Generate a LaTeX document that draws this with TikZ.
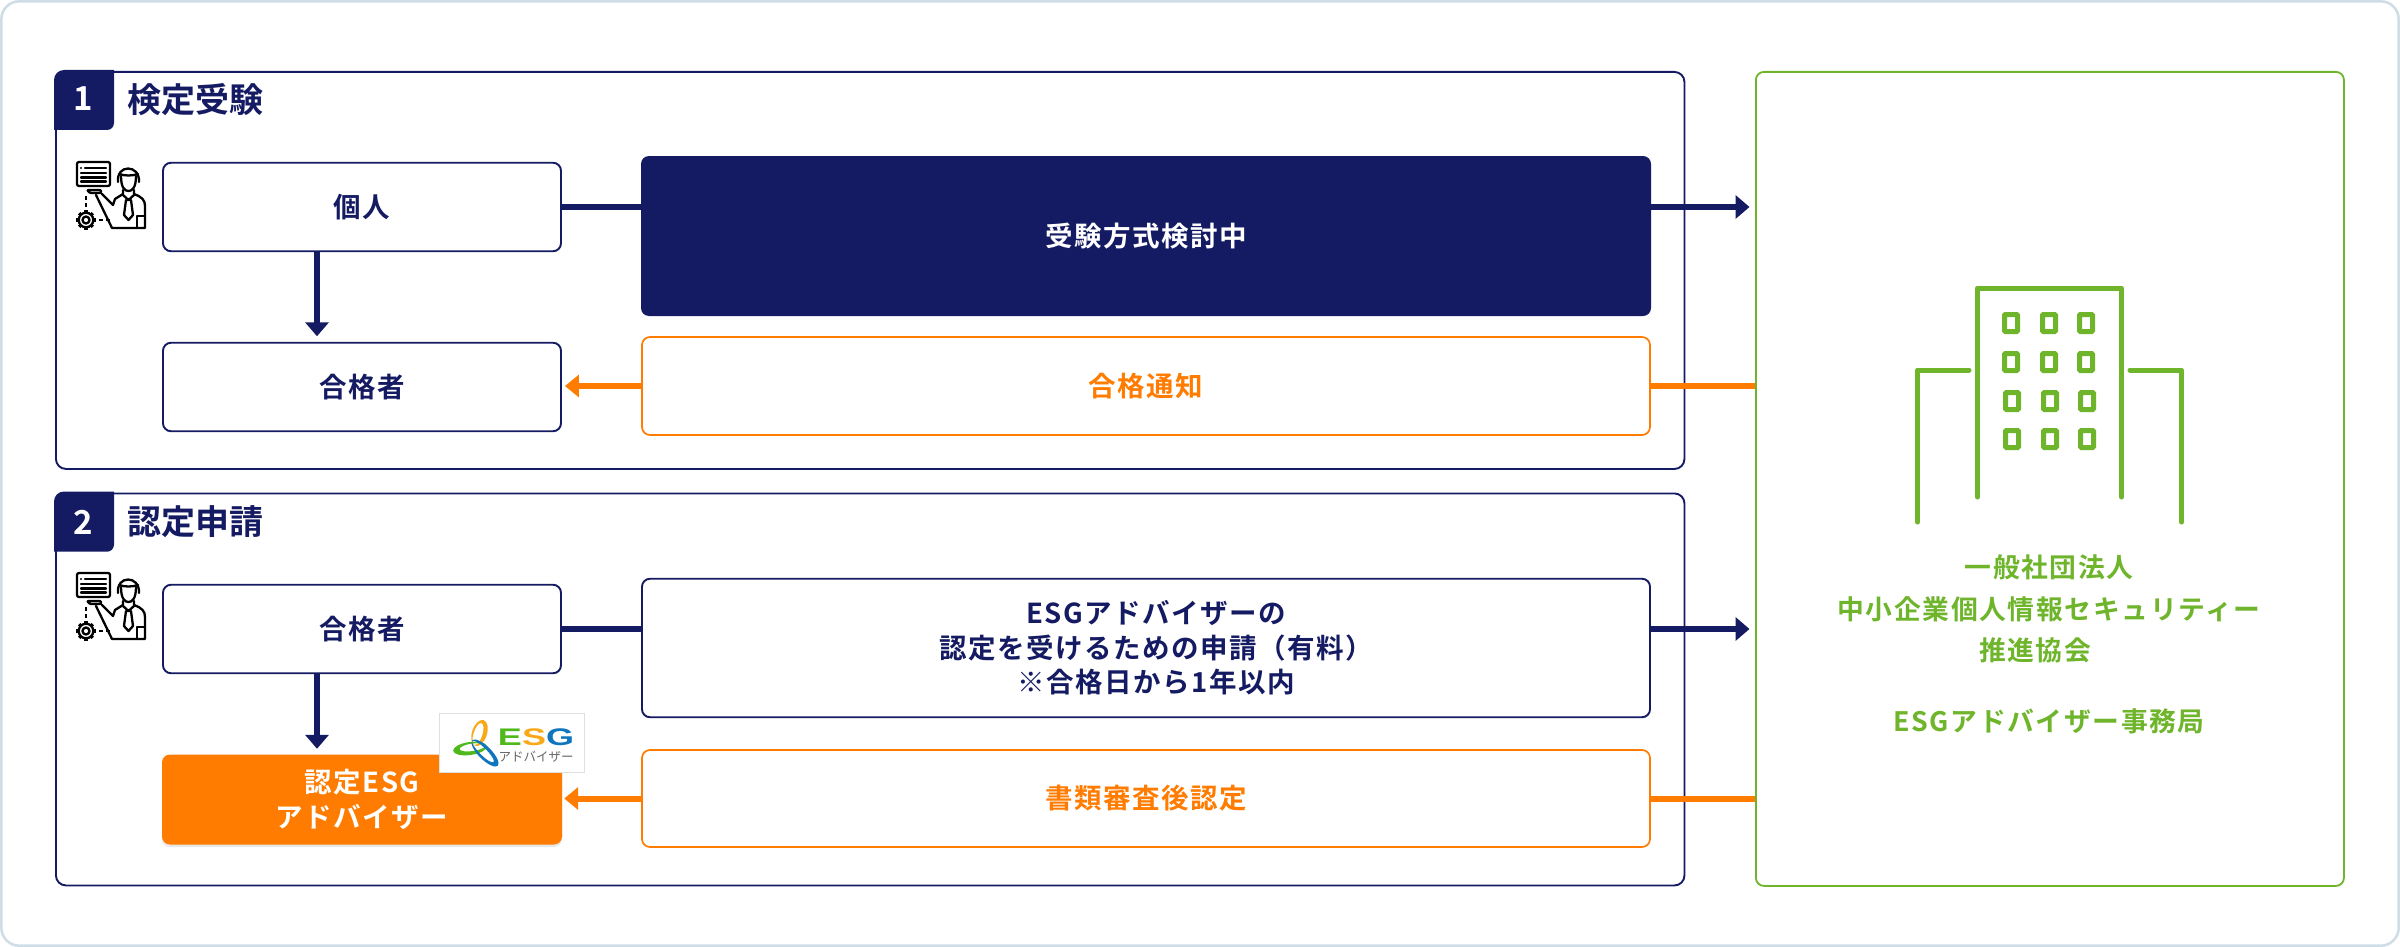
\documentclass[tikz,border=0pt]{standalone}
\usepackage{fontspec}
\usetikzlibrary{arrows.meta,shadows,calc}
\newfontfamily\jpb{Noto Sans CJK JP}[UprightFont=* Bold,LetterSpace=5.5]
\newfontfamily\jpg{Noto Sans CJK JP}[UprightFont=* Bold,LetterSpace=6]
\newfontfamily\jpt{Noto Sans CJK JP}[UprightFont=* Bold]
\newfontfamily\jpr{Noto Sans CJK JP}
\newfontfamily\arb{Liberation Sans}[UprightFont=* Bold]
\definecolor{navy}{HTML}{151B63}
\definecolor{orng}{HTML}{FF7C00}
\definecolor{grn}{HTML}{6FB52C}
\definecolor{edge}{HTML}{CFDDE6}
\definecolor{logog}{HTML}{4FB81C}
\definecolor{logoo}{HTML}{F9A81A}
\definecolor{logob}{HTML}{0F75BC}
\tikzset{
  x=1pt,y=-1pt,
  panel/.style={draw=navy,line width=1.9pt,rounded corners=10pt,fill=white},
  navybox/.style={draw=navy,line width=1.9pt,rounded corners=8pt,fill=white,text=navy,inner sep=0pt,align=center},
  orngbox/.style={draw=orng,line width=1.7pt,rounded corners=8pt,fill=white,text=orng,inner sep=0pt,align=center},
  lbl/.style={font=\jpb\fontsize{27.5}{34.5}\selectfont},
  ttl/.style={font=\jpt\fontsize{34}{36}\selectfont,text=navy,anchor=west,inner sep=0pt},
  num/.style={font=\jpt\fontsize{33}{36}\selectfont,text=white,inner sep=0pt},
  navyline/.style={draw=navy,line width=6pt},
  orngline/.style={draw=orng,line width=6pt},
  navyarrow/.style={navyline,-{Triangle[length=14pt,width=23pt]}},
  orngarrow/.style={orngline,-{Triangle[length=14pt,width=22pt]}},
  ico/.style={draw=black,line width=2.3pt,line join=round,line cap=round,fill=none},
  bld/.style={draw=grn,line width=5pt,line cap=round,line join=round},
  win/.style={draw=grn,line width=5pt,rounded corners=1pt,fill=white},
  staff/.pic={
    \draw[ico,rounded corners=2pt] (17,22) rectangle (50,46);
    \draw[ico] (25,28)--(46,28) (21,33)--(46,33) (21,37.5)--(46,37.5) (21,41.5)--(46,41.5);
    \fill (21,28) circle (1.2);
    \draw[ico,rounded corners=1pt] (27,50)--(41,50)--(41,53)--(30,53)--cycle;
    \draw[ico] (58,42) .. controls (56,24) and (80,24) .. (79,42);
    \draw[ico] (59,34) .. controls (65,36) and (72,36) .. (78,34);
    \draw[ico] (61,36) .. controls (61,48) and (65,51) .. (68.5,51) .. controls (72,51) and (76,48) .. (76,36);
    \draw[ico] (63,50) -- (63,55) -- (68.5,60) -- (74,55) -- (74,50);
    \draw[ico] (63,54) -- (55,59) -- (53,65) -- (42,54);
    \draw[ico] (36,55) -- (52,88) -- (85,88) -- (85,66) .. controls (85,60) and (82,57) .. (74,54);
    \draw[ico] (66,60) -- (71,60) -- (73,75) -- (68.5,80) -- (64,75) -- cycle;
    \draw[ico] (77,76) -- (85,76) (77,76) -- (77,88);
    \draw[ico,dash pattern=on 3.5pt off 3.5pt,line cap=butt] (26,56) -- (26,68);
    \draw[ico,dash pattern=on 3.5pt off 3.5pt,line cap=butt] (39,80) -- (50,80);
    \draw[ico] (26,80) circle (3.5);
    \draw[ico] (26,80) circle (7.3);
    \foreach \a in {0,45,...,315}{\draw[black,line width=3.2pt,line cap=butt] (26,80) ++(\a:7.3) -- ++(\a:2.3);}
  },
}
\begin{document}
\begin{tikzpicture}
\useasboundingbox (0,0) rectangle (2400,947);
\fill[white] (0,0) rectangle (2400,947);
\draw[draw=edge,line width=2.5pt,rounded corners=18pt,fill=white] (1.3,1.3) rectangle (2398.7,945.7);

% panels
\node[panel,anchor=north west,minimum width=1628.5pt,minimum height=397pt,inner sep=0pt] (p1) at (55,71) {};
\node[panel,anchor=north west,minimum width=1628.5pt,minimum height=392pt,inner sep=0pt] (p2) at (55,492.5) {};
\node[draw=grn,line width=1.8pt,rounded corners=8pt,fill=white,anchor=north west,minimum width=588pt,minimum height=814pt,inner sep=0pt] (gp) at (1755,71) {};

% badges
\fill[navy,rounded corners=10pt] (114,70) -- (54,70) [sharp corners] -- (54,130) [rounded corners=7pt] -- (114,130) [sharp corners] -- cycle;
\fill[navy,rounded corners=10pt] (114,491.5) -- (54,491.5) [sharp corners] -- (54,551.7) [rounded corners=7pt] -- (114,551.7) [sharp corners] -- cycle;
\node[num] (n1) at (83,99) {1};
\node[num] (n2) at (83,522) {2};
\node[ttl] (t1) at (127,100) {検定受験};
\node[ttl] (t2) at (127,522) {認定申請};

% icons
\pic at (60,140) {staff};
\pic at (60,551) {staff};

% boxes
\node[navybox,lbl,minimum width=398pt,minimum height=88.5pt] (ind) at (362,207) {個人};
\node[navybox,lbl,minimum width=398pt,minimum height=88.5pt] (pass1) at (362,387) {合格者};
\node[navybox,lbl,minimum width=398pt,minimum height=88.5pt] (pass2) at (362,629) {合格者};
\node[fill=orng,text=white,lbl,rounded corners=8pt,inner sep=0pt,align=center,minimum width=400pt,minimum height=90pt,drop shadow={opacity=0.18,shadow xshift=0pt,shadow yshift=-2.5pt}] (cert) at (362,799.5) {認定ESG\\アドバイザー};
\node[fill=navy,text=white,lbl,rounded corners=8pt,inner sep=0pt,minimum width=1010pt,minimum height=160pt] (exam) at (1146,236) {受験方式検討中};
\node[orngbox,lbl,minimum width=1008pt,minimum height=98pt] (notice) at (1146,386) {合格通知};
\node[navybox,lbl,minimum width=1008pt,minimum height=138.5pt] (apply) at (1146,648) {\hspace*{21pt}ESGアドバイザーの\\\hspace*{20pt}認定を受けるための申請（有料）\\\hspace*{21pt}※合格日から1年以内};
\node[orngbox,lbl,minimum width=1008pt,minimum height=97pt] (review) at (1146,798.5) {書類審査後認定};

% logo
\node[draw=black!12,line width=1pt,fill=white,minimum width=145pt,minimum height=59.5pt,inner sep=0pt] (logo) at (512,743) {};
\fill[logoo,even odd rule] (479.5,733) ellipse [x radius=7.5,y radius=13.5,rotate=-18] (478,734) ellipse [x radius=4.5,y radius=11.5,rotate=-18];
\fill[logog,even odd rule] (470,748.5) ellipse [x radius=17,y radius=6.5,rotate=8] (472.5,747.3) ellipse [x radius=13,y radius=3.8,rotate=8];
\fill[logob,even odd rule] (485,753) ellipse [x radius=18,y radius=6.5,rotate=-45] (483,751.5) ellipse [x radius=15,y radius=3.6,rotate=-45];
\node[inner sep=0pt,transform shape,xscale=1.5,font=\arb\fontsize{24}{24}\selectfont] (esg) at (536,737) {\textcolor{logog}{E}\textcolor{logoo}{S}\textcolor{logob}{G}};
\node[inner sep=0pt,text=black!60,font=\jpr\fontsize{12.5}{14}\selectfont] (adv) at (536,757) {アドバイザー};

% building
\node[inner sep=0pt,align=center,text=grn,font=\jpg\fontsize{26.8}{41.5}\selectfont] (org) at (2049,609) {一般社団法人\\中小企業個人情報セキュリティー\\推進協会\hspace*{28pt}};
\node[inner sep=0pt,text=grn,font=\jpg\fontsize{26.8}{30}\selectfont] (sec) at (2049,721.5) {ESGアドバイザー事務局};
\draw[bld] (1977.5,497) -- (1977.5,288) -- (2121.5,288) -- (2121.5,497);
\draw[bld] (1917.5,522) -- (1917.5,370) -- (1969,370);
\draw[bld] (2181.5,522) -- (2181.5,370) -- (2130,370);
\foreach \yy/\dx in {323/0,362/0,401/1,439/1}{
  \foreach \xx in {2011,2049,2086}{
    \draw[win] (\xx+\dx-6.5,\yy-8.5) rectangle (\xx+\dx+6.5,\yy+8.5);
  }
}

% connectors
\coordinate (d1) at (317,0);
\draw[navyline] (ind.east) -- (ind.east -| exam.west);
\draw[navyarrow,shorten >=5.5pt] (ind.east -| exam.east) -- (ind.east -| gp.west);
\draw[navyarrow,shorten >=5.5pt] (d1 |- ind.south) -- (d1 |- pass1.north);
\draw[orngline] (notice.east) -- (notice.east -| gp.west);
\draw[orngarrow,shorten >=3pt] (notice.west) -- (notice.west -| pass1.east);
\draw[navyline] (pass2.east) -- (pass2.east -| apply.west);
\draw[navyarrow,shorten >=5.5pt] (pass2.east -| apply.east) -- (pass2.east -| gp.west);
\draw[navyarrow,shorten >=5.5pt] (d1 |- pass2.south) -- (d1 |- cert.north);
\draw[orngline] (review.east) -- (review.east -| gp.west);
\draw[orngarrow,shorten >=2pt] (review.west) -- (review.west -| cert.east);
\end{tikzpicture}
\end{document}
